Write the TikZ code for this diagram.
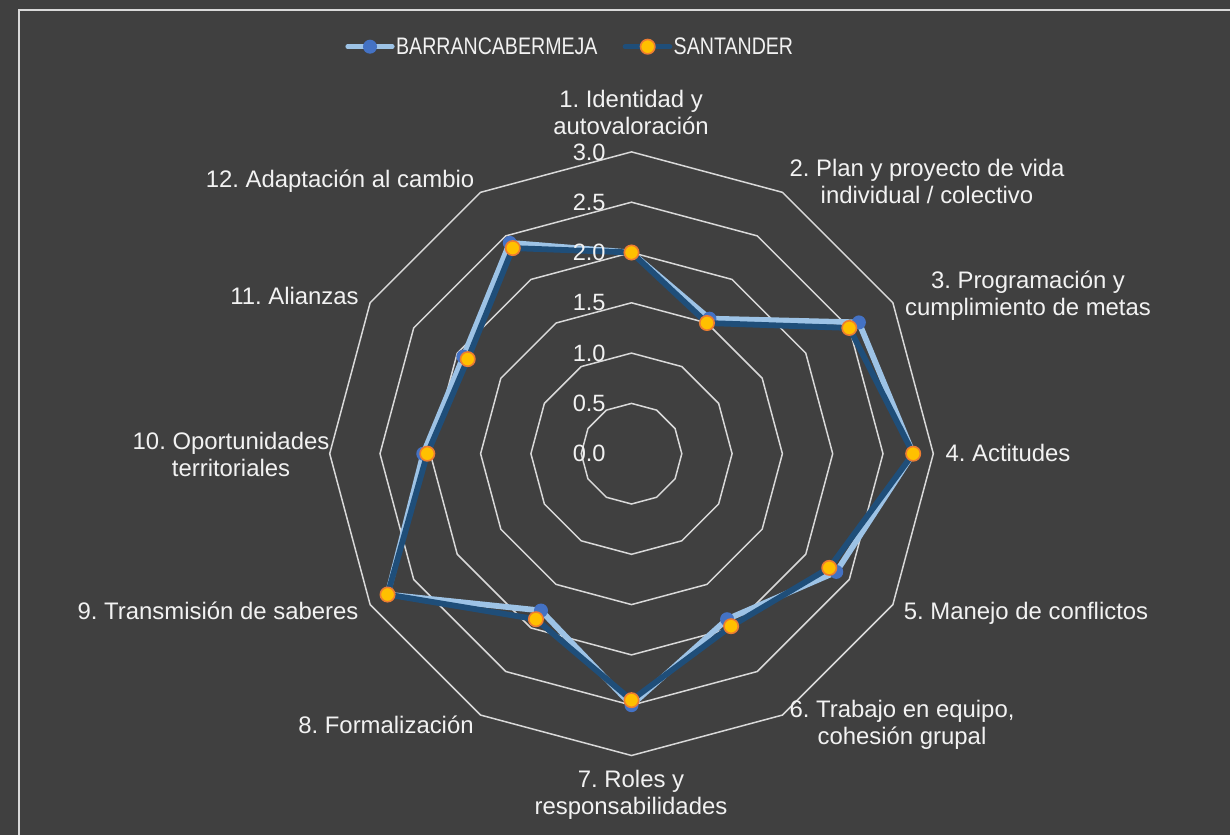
\documentclass[tikz,border=0pt]{standalone}
\usepackage{fontspec}
\setmainfont{Liberation Sans}
\usetikzlibrary{calc}
\frenchspacing
\definecolor{bg}{HTML}{404040}
\definecolor{gridc}{HTML}{D9D9D9}
\definecolor{txt}{HTML}{F2F2F2}
\definecolor{bline}{HTML}{9DC3E6}
\definecolor{bmark}{HTML}{4472C4}
\definecolor{sline}{HTML}{1F4E79}
\definecolor{sfill}{HTML}{FFC000}
\definecolor{sdraw}{HTML}{ED7D31}
\begin{document}
\frenchspacing
\begin{tikzpicture}[x=0.5pt,y=0.5pt,
  lbl/.style={text=txt,font=\fontsize{11.95}{13.5}\selectfont,align=center,inner sep=0},
  ringlbl/.style={text=txt,font=\fontsize{11.8}{13.5}\selectfont,anchor=east,inner sep=0},
  leglbl/.style={text=txt,font=\fontsize{11.95}{13.5}\selectfont,anchor=west,inner sep=0},
  ring/.style={draw=gridc,line width=0.75pt,line join=miter},
  bser/.style={draw=bline,line width=2.9pt,line join=round},
  sser/.style={draw=sline,line width=2.9pt,line join=round},
  bdot/.style={circle,fill=bmark,minimum size=7pt,inner sep=0},
  sdot/.style={circle,fill=sfill,draw=sdraw,line width=0.8pt,minimum size=7.2pt,inner sep=0},
]
\fill[bg] (0,0) rectangle (1230,835);
\useasboundingbox (0,0) rectangle (1230,835);
\draw[gridc,line width=1pt] (18.7,0) -- (18.7,825.3) -- (1230,825.3);

% legend
\coordinate (lb1) at (347.7,788.3);
\coordinate (lb2) at (392.3,788.3);
\coordinate (ls1) at (625,788.3);
\coordinate (ls2) at (670,788.3);
\draw[bline,line width=2.3pt,line cap=round] (lb1) -- (lb2);
\node[bdot] (lbm) at (370,788.3) {};
\node[leglbl] (lbt) at (395.7,788.3) {\scalebox{0.82}[1]{BARRANCABERMEJA}};
\draw[sline,line width=2.3pt,line cap=round] (ls1) -- (ls2);
\node[sdot] (lsm) at (647.7,788.3) {};
\node[leglbl] (lst) at (673.3,788.3) {\scalebox{0.82}[1]{SANTANDER}};

\begin{scope}[shift={(631.5,381.3)}]
  % rings
  \foreach \k in {1,...,6} {
    \draw[ring] (90:{\k*50.3}) \foreach \j in {1,...,11} { -- ({90-30*\j}:{\k*50.3}) } -- cycle;
  }
  % data points
  \foreach \v [count=\i] in {2.0,1.55,2.61,2.80,2.35,1.90,2.50,1.80,2.80,2.07,1.93,2.42}
    \coordinate (b\i) at ({90-30*(\i-1)}:{\v*100.6});
  \foreach \v [count=\i] in {2.0,1.50,2.50,2.80,2.27,1.98,2.45,1.90,2.80,2.03,1.88,2.36}
    \coordinate (s\i) at ({90-30*(\i-1)}:{\v*100.6});
  \draw[bser] (b1) \foreach \i in {2,...,12} { -- (b\i) } -- cycle;
  \foreach \i in {1,...,12} \node[bdot] (bm\i) at (b\i) {};
  \draw[sser] (s1) \foreach \i in {2,...,12} { -- (s\i) } -- cycle;
  \foreach \i in {1,...,12} \node[sdot] (sm\i) at (s\i) {};
  % ring labels
  \foreach \t [count=\i from 0] in {0.0,0.5,1.0,1.5,2.0,2.5,3.0}
    \node[ringlbl] (rl\i) at (-25.5,{\i*50.3}) {\t};
\end{scope}

% category labels
\node[lbl] (c1) at (631,723) {1. Identidad y\\autovaloración};
\node[lbl] (c2) at (927,654) {2. Plan y proyecto de vida\\individual / colectivo};
\node[lbl] (c3) at (1028,539) {3. Programación y\\cumplimiento de metas};
\node[lbl] (c4) at (1008,382) {4. Actitudes};
\node[lbl] (c5) at (1026,222) {5. Manejo de conflictos};
\node[lbl] (c6) at (902,110) {6. Trabajo en equipo,\\cohesión grupal};
\node[lbl] (c7) at (631,40) {7. Roles y\\responsabilidades};
\node[lbl] (c8) at (386,110) {8. Formalización};
\node[lbl] (c9) at (218,224) {9. Transmisión de saberes};
\node[lbl] (c10) at (231,381) {10. Oportunidades\\territoriales};
\node[lbl] (c11) at (294.5,539) {11. Alianzas};
\node[lbl] (c12) at (340,654.3) {12. Adaptación al cambio};
\end{tikzpicture}
\end{document}
